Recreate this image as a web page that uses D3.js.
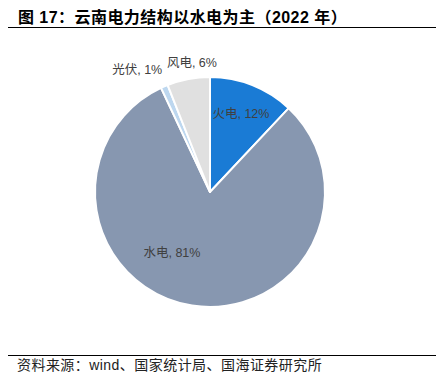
<!DOCTYPE html>
<html>
<head>
<meta charset="utf-8">
<script src="https://cdn.jsdelivr.net/npm/d3@7"></script>
<style>
  html, body { margin: 0; padding: 0; background: #fff; }
  svg { display: block; font-family: "Liberation Sans", "Noto Sans CJK SC", sans-serif; }
</style>
</head>
<body>
<div id="chart"></div>
<script>
const categories = ["火电", "水电", "光伏", "风电"]
const shares = [12, 81, 1, 6]
const colors = ["#1a7bd5", "#8797b0", "#bdd7ef", "#e0e0e0"]
const title = "图 17：云南电力结构以水电为主（2022 年）"
const source = "资料来源：wind、国家统计局、国海证券研究所"

const width = 436
const height = 384
const center = { x: 210, y: 192 }
const radius = 115

// label placement: radius from centre and angle nudge (radians) per slice
const labelRadius = [84, 72, 142, 131]
const labelNudge = [0, 0.40, -0.13, 0.05]

const svg = d3.select("#chart")
  .append("svg")
  .attr("width", width)
  .attr("height", height)
  .attr("viewBox", [0, 0, width, height])

svg.append("text")
  .attr("x", 18)
  .attr("y", 23)
  .attr("font-size", 16)
  .attr("font-weight", "bold")
  .attr("letter-spacing", 0.45)
  .attr("fill", "#000")
  .text(title)

svg.append("line")
  .attr("x1", 8).attr("x2", width)
  .attr("y1", 27.5).attr("y2", 27.5)
  .attr("stroke", "#000").attr("stroke-width", 1)

svg.append("line")
  .attr("x1", 8).attr("x2", width)
  .attr("y1", 355.5).attr("y2", 355.5)
  .attr("stroke", "#000").attr("stroke-width", 1)

svg.append("text")
  .attr("x", 17)
  .attr("y", 370)
  .attr("font-size", 14)
  .attr("letter-spacing", 0.45)
  .attr("fill", "#222")
  .text(source)

const data = categories.map((name, i) => ({ name, value: shares[i], i }))

const pie = d3.pie()
  .value(d => d.value)
  .sort(null)

const arc = d3.arc()
  .innerRadius(0)
  .outerRadius(radius)

const arcs = pie(data)

const g = svg.append("g")
  .attr("transform", `translate(${center.x},${center.y})`)

g.selectAll("path")
  .data(arcs)
  .join("path")
    .attr("d", arc)
    .attr("fill", d => colors[d.data.i])
    .attr("stroke", "#fff")
    .attr("stroke-width", 2)
    .attr("stroke-linejoin", "round")

g.selectAll("text.label")
  .data(arcs)
  .join("text")
    .attr("class", "label")
    .attr("transform", d => {
      const a = (d.startAngle + d.endAngle) / 2 + labelNudge[d.data.i]
      const r = labelRadius[d.data.i]
      return `translate(${r * Math.sin(a)},${-r * Math.cos(a)})`
    })
    .attr("text-anchor", "middle")
    .attr("dy", "0.35em")
    .attr("font-size", 12.5)
    .attr("fill", "#404040")
    .text(d => `${d.data.name}, ${d.data.value}%`)
</script>
</body>
</html>
